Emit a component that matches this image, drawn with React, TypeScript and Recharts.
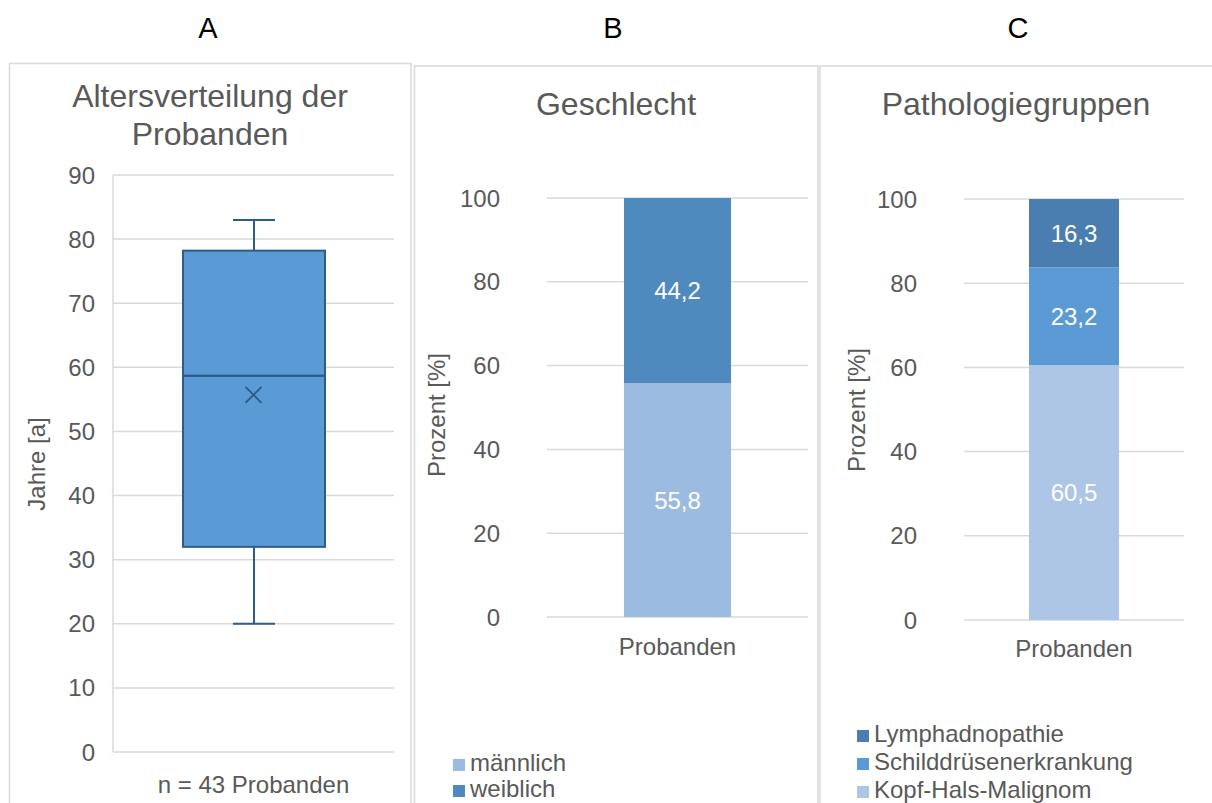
import React from "react"
import { ComposedChart, BarChart, Bar, Line, XAxis, YAxis, CartesianGrid, LabelList, Legend } from "recharts"

const FONT = '"Liberation Sans", Arial, sans-serif'
const TEXT = "#595959"
const GRID = "#d9d9d9"
const BOX_STROKE = "#2e5b88"
const FS = 24

// A – Altersverteilung der Probanden (Boxplot)
const ageCategory = ["n = 43 Probanden"]
const ageMin = [20]
const ageQ1 = [32]
const ageMedian = [58.7]
const ageQ3 = [78.2]
const ageMax = [83]
const ageMean = [55.7]
const ageTicks = [0, 10, 20, 30, 40, 50, 60, 70, 80, 90]

// B – Geschlecht
const sexCategory = ["Probanden"]
const maleValues = [55.8]
const femaleValues = [44.2]

// C – Pathologiegruppen
const pathoCategory = ["Probanden"]
const malignomValues = [60.5]
const thyroidValues = [23.2]
const lymphValues = [16.3]

const percentTicks = [0, 20, 40, 60, 80, 100]

const boxData = ageCategory.map((name, i) => ({
  name,
  base: ageMin[i],
  lowWhisker: ageQ1[i] - ageMin[i],
  lowBox: ageMedian[i] - ageQ1[i],
  highBox: ageQ3[i] - ageMedian[i],
  highWhisker: ageMax[i] - ageQ3[i],
  mean: ageMean[i],
}))

const sexData = sexCategory.map((name, i) => ({ name, male: maleValues[i], female: femaleValues[i] }))

const pathoData = pathoCategory.map((name, i) => ({
  name,
  malignom: malignomValues[i],
  thyroid: thyroidValues[i],
  lymph: lymphValues[i],
}))

const tickStyle = { fill: TEXT, fontSize: FS, fontFamily: FONT }
const fmt = (v: any) => Number(v).toFixed(1).replace(".", ",")

const WhiskerLow = (p: any) => {
  const cx = p.x + p.width / 2
  const yb = p.y + p.height
  return (
    <g>
      <line x1={cx} x2={cx} y1={p.y} y2={yb} stroke={BOX_STROKE} strokeWidth={2} />
      <line x1={cx - 21} x2={cx + 21} y1={yb} y2={yb} stroke={BOX_STROKE} strokeWidth={2} />
    </g>
  )
}

const WhiskerHigh = (p: any) => {
  const cx = p.x + p.width / 2
  return (
    <g>
      <line x1={cx} x2={cx} y1={p.y} y2={p.y + p.height} stroke={BOX_STROKE} strokeWidth={2} />
      <line x1={cx - 21} x2={cx + 21} y1={p.y} y2={p.y} stroke={BOX_STROKE} strokeWidth={2} />
    </g>
  )
}

const BoxPart = (p: any) => (
  <rect x={p.x} y={p.y} width={p.width} height={p.height} fill="#5b9bd5" stroke={BOX_STROKE} strokeWidth={2} />
)

const MeanMark = (p: any) => {
  const { cx, cy } = p
  if (cx == null || cy == null) return <g />
  return (
    <path
      d={`M${cx - 8},${cy - 8}L${cx + 8},${cy + 8}M${cx + 8},${cy - 8}L${cx - 8},${cy + 8}`}
      stroke={BOX_STROKE}
      strokeWidth={2}
      fill="none"
    />
  )
}

const yLabel = (text: string, x: number, y: number) => () => (
  <text x={x} y={y} transform={`rotate(-90 ${x} ${y})`} textAnchor="middle" fill={TEXT} fontSize={FS} fontFamily={FONT}>
    {text}
  </text>
)

const legendContent = (items: { name: string; color: string }[], rowHeight: number) => () => (
  <div style={{ fontFamily: FONT, fontSize: FS, color: TEXT, lineHeight: rowHeight + "px" }}>
    {items.map((it) => (
      <div key={it.name} style={{ whiteSpace: "nowrap" }}>
        <span style={{ display: "inline-block", width: 12, height: 12, background: it.color, marginRight: 5 }} />
        {it.name}
      </div>
    ))}
  </div>
)

export default function App() {
  return (
    <div style={{ position: "absolute", left: 0, top: 0, width: 1212, height: 803, overflow: "hidden", background: "#fff" }}>
      <svg width={1212} height={803} style={{ position: "absolute", left: 0, top: 0 }}>
        <rect x={9.5} y={63.5} width={401.5} height={760} fill="none" stroke={GRID} strokeWidth={1.5} />
        <rect x={414.5} y={66} width={403.5} height={760} fill="none" stroke={GRID} strokeWidth={1.5} />
        <rect x={820} y={66} width={400} height={760} fill="none" stroke={GRID} strokeWidth={1.5} />
        <g fontFamily={FONT} fontSize={29} fill="#000" textAnchor="middle">
          <text x={208} y={38}>A</text>
          <text x={613} y={38}>B</text>
          <text x={1018} y={38}>C</text>
        </g>
        <g fontFamily={FONT} fontSize={32} fill={TEXT} textAnchor="middle">
          <text x={210} y={107}>Altersverteilung der</text>
          <text x={210} y={145}>Probanden</text>
          <text x={616} y={115}>Geschlecht</text>
          <text x={1016} y={115}>Pathologiegruppen</text>
        </g>
      </svg>

      <div style={{ position: "absolute", left: 9, top: 63 }}>
        <ComposedChart width={402} height={740} data={boxData} margin={{ top: 112, right: 17, bottom: 0, left: 0 }}>
          <CartesianGrid vertical={false} stroke={GRID} strokeWidth={1.5} />
          <XAxis dataKey="name" height={51} axisLine={false} tickLine={false} tickSize={0} tickMargin={24} tick={tickStyle} />
          <YAxis
            type="number"
            domain={[0, 90]}
            ticks={ageTicks}
            width={104}
            tickLine={false}
            tickSize={0}
            tickMargin={18}
            axisLine={{ stroke: GRID, strokeWidth: 1.5 }}
            tick={tickStyle}
            label={{ content: yLabel("Jahre [a]", 36, 401) }}
          />
          <Bar dataKey="base" stackId="box" barSize={142} fill="none" isAnimationActive={false} />
          <Bar dataKey="lowWhisker" stackId="box" barSize={142} shape={WhiskerLow} isAnimationActive={false} />
          <Bar dataKey="lowBox" stackId="box" barSize={142} shape={BoxPart} isAnimationActive={false} />
          <Bar dataKey="highBox" stackId="box" barSize={142} shape={BoxPart} isAnimationActive={false} />
          <Bar dataKey="highWhisker" stackId="box" barSize={142} shape={WhiskerHigh} isAnimationActive={false} />
          <Line dataKey="mean" stroke="none" dot={MeanMark} activeDot={false} isAnimationActive={false} />
        </ComposedChart>
      </div>

      <div style={{ position: "absolute", left: 414, top: 66 }}>
        <BarChart width={404} height={737} data={sexData} margin={{ top: 132, right: 10, bottom: 0, left: 0 }}>
          <CartesianGrid vertical={false} stroke={GRID} strokeWidth={1.5} />
          <XAxis dataKey="name" height={186} axisLine={false} tickLine={false} tickSize={0} tickMargin={21} tick={tickStyle} />
          <YAxis
            type="number"
            domain={[0, 100]}
            ticks={percentTicks}
            width={133}
            axisLine={false}
            tickLine={false}
            tickSize={0}
            tickMargin={47}
            tick={tickStyle}
            label={{ content: yLabel("Prozent [%]", 31, 349) }}
          />
          <Legend
            verticalAlign="middle"
            align="center"
            layout="horizontal"
            wrapperStyle={{ left: 39, top: 684, width: "auto" }}
            content={legendContent(
              [
                { name: "männlich", color: "#9bbbe0" },
                { name: "weiblich", color: "#4f8abe" },
              ],
              26
            )}
          />
          <Bar dataKey="male" name="männlich" stackId="s" barSize={107} fill="#9bbbe0" isAnimationActive={false}>
            <LabelList dataKey="male" position="center" formatter={fmt} fill="#ffffff" fontSize={FS} fontFamily={FONT} />
          </Bar>
          <Bar dataKey="female" name="weiblich" stackId="s" barSize={107} fill="#4f8abe" isAnimationActive={false}>
            <LabelList dataKey="female" position="center" formatter={fmt} fill="#ffffff" fontSize={FS} fontFamily={FONT} />
          </Bar>
        </BarChart>
      </div>

      <div style={{ position: "absolute", left: 820, top: 66 }}>
        <BarChart width={392} height={737} data={pathoData} margin={{ top: 133, right: 28, bottom: 0, left: 0 }}>
          <CartesianGrid vertical={false} stroke={GRID} strokeWidth={1.5} />
          <XAxis dataKey="name" height={183} axisLine={false} tickLine={false} tickSize={0} tickMargin={20} tick={tickStyle} />
          <YAxis
            type="number"
            domain={[0, 100]}
            ticks={percentTicks}
            width={144}
            axisLine={false}
            tickLine={false}
            tickSize={0}
            tickMargin={47}
            tick={tickStyle}
            label={{ content: yLabel("Prozent [%]", 45, 344) }}
          />
          <Legend
            verticalAlign="middle"
            align="center"
            layout="horizontal"
            wrapperStyle={{ left: 37, top: 654, width: "auto" }}
            content={legendContent(
              [
                { name: "Lymphadnopathie", color: "#4a7eb0" },
                { name: "Schilddrüsenerkrankung", color: "#5b9ad5" },
                { name: "Kopf-Hals-Malignom", color: "#adc6e6" },
              ],
              28
            )}
          />
          <Bar dataKey="malignom" name="Kopf-Hals-Malignom" stackId="p" barSize={90} fill="#adc6e6" isAnimationActive={false}>
            <LabelList dataKey="malignom" position="center" formatter={fmt} fill="#ffffff" fontSize={FS} fontFamily={FONT} />
          </Bar>
          <Bar dataKey="thyroid" name="Schilddrüsenerkrankung" stackId="p" barSize={90} fill="#5b9ad5" isAnimationActive={false}>
            <LabelList dataKey="thyroid" position="center" formatter={fmt} fill="#ffffff" fontSize={FS} fontFamily={FONT} />
          </Bar>
          <Bar dataKey="lymph" name="Lymphadnopathie" stackId="p" barSize={90} fill="#4a7eb0" isAnimationActive={false}>
            <LabelList dataKey="lymph" position="center" formatter={fmt} fill="#ffffff" fontSize={FS} fontFamily={FONT} />
          </Bar>
        </BarChart>
      </div>
    </div>
  )
}
